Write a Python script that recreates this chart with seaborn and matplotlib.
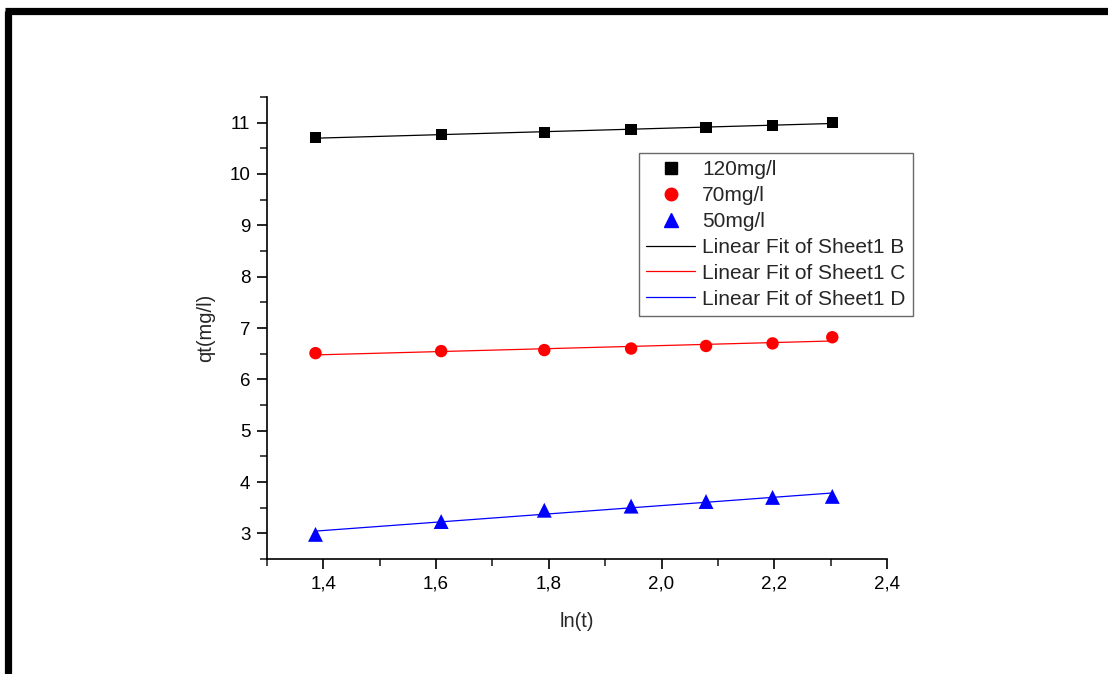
import numpy as np
import pandas as pd
import matplotlib
matplotlib.use("Agg")
import matplotlib.pyplot as plt
from matplotlib.lines import Line2D
from matplotlib.ticker import MultipleLocator, FuncFormatter
import seaborn as sns

# ln(t) for t = 4..10 min and adsorbed quantity qt (mg/l) for three initial concentrations
ln_t = [1.386, 1.609, 1.792, 1.946, 2.079, 2.197, 2.303]
qt_120 = [10.71, 10.77, 10.81, 10.86, 10.91, 10.94, 11.01]
qt_70 = [6.51, 6.55, 6.57, 6.60, 6.65, 6.70, 6.82]
qt_50 = [2.98, 3.23, 3.45, 3.53, 3.62, 3.70, 3.72]

series_labels = ["120mg/l", "70mg/l", "50mg/l"]
fit_labels = ["Linear Fit of Sheet1 B", "Linear Fit of Sheet1 C", "Linear Fit of Sheet1 D"]
x_ticks = [1.4, 1.6, 1.8, 2.0, 2.2, 2.4]
y_ticks = [3, 4, 5, 6, 7, 8, 9, 10, 11]

sns.set_style("ticks")
plt.rcParams["font.family"] = ["Liberation Sans", "DejaVu Sans"]

colors = ["#000000", "#ff0000", "#0000ff"]
markers = ["s", "o", "^"]
msizes = [65, 80, 115]

fig = plt.figure(figsize=(11.08, 6.74), dpi=100)
ax = fig.add_axes([0.241, 0.1706, 0.5595, 0.6855])

frames = []
for lab, ys in zip(series_labels, [qt_120, qt_70, qt_50]):
    frames.append(pd.DataFrame({"ln_t": ln_t, "qt": ys, "series": lab}))
df = pd.concat(frames, ignore_index=True)

# least-squares fit lines over the measured range
for lab, col in zip(series_labels, colors):
    sub = df[df["series"] == lab]
    k, b = np.polyfit(sub["ln_t"], sub["qt"], 1)
    fit = pd.DataFrame({"x": sub["ln_t"], "y": k * sub["ln_t"] + b})
    sns.lineplot(data=fit, x="x", y="y", ax=ax, color=col, linewidth=0.9, legend=False)

for lab, col, mk, ms in zip(series_labels, colors, markers, msizes):
    sub = df[df["series"] == lab]
    sns.scatterplot(data=sub, x="ln_t", y="qt", ax=ax, color=col, marker=mk,
                    s=ms, edgecolor="none", legend=False, zorder=3)

ax.set_xlim(1.3, 2.4)
ax.set_ylim(2.5, 11.5)
ax.set_xticks(x_ticks)
ax.set_yticks(y_ticks)
ax.xaxis.set_minor_locator(MultipleLocator(0.1))
ax.yaxis.set_minor_locator(MultipleLocator(0.5))
ax.xaxis.set_major_formatter(FuncFormatter(lambda v, p: f"{v:.1f}".replace(".", ",")))
ax.yaxis.set_major_formatter(FuncFormatter(lambda v, p: f"{v:.0f}"))
ax.tick_params(axis="both", which="major", direction="out", length=7, width=1.2,
               labelsize=13.5, colors="black", pad=5)
ax.tick_params(axis="both", which="minor", direction="out", length=5, width=1.2)
for side in ["top", "right"]:
    ax.spines[side].set_visible(False)
for side in ["left", "bottom"]:
    ax.spines[side].set_linewidth(1.2)
    ax.spines[side].set_color("black")

ax.set_xlabel("ln(t)", fontsize=14.5, labelpad=14)
ax.set_ylabel("qt(mg/l)", fontsize=14.5, labelpad=10)

handles = [Line2D([], [], linestyle="none", marker=mk, color=c, markersize=ms)
           for mk, c, ms in zip(markers, colors, [8, 9, 10])]
handles += [Line2D([], [], color=c, linewidth=0.9) for c in colors]
leg = ax.legend(handles, series_labels + fit_labels, loc="upper left",
                bbox_to_anchor=(0.6, 0.879), fontsize=15, frameon=True,
                fancybox=False, edgecolor="#444444", handlelength=2.35,
                handletextpad=0.33, borderpad=0.35, labelspacing=0.33,
                borderaxespad=0)
leg.get_frame().set_linewidth(1.0)

# heavy border along the left and top edges of the figure
fig.add_artist(Line2D([0.0076, 0.0076], [0.0, 0.984], transform=fig.transFigure,
                      color="black", linewidth=5.2, solid_capstyle="butt"))
fig.add_artist(Line2D([0.0045, 1.0], [0.984, 0.984], transform=fig.transFigure,
                      color="black", linewidth=5.2, solid_capstyle="butt"))

fig.savefig("out.png", dpi=100)
